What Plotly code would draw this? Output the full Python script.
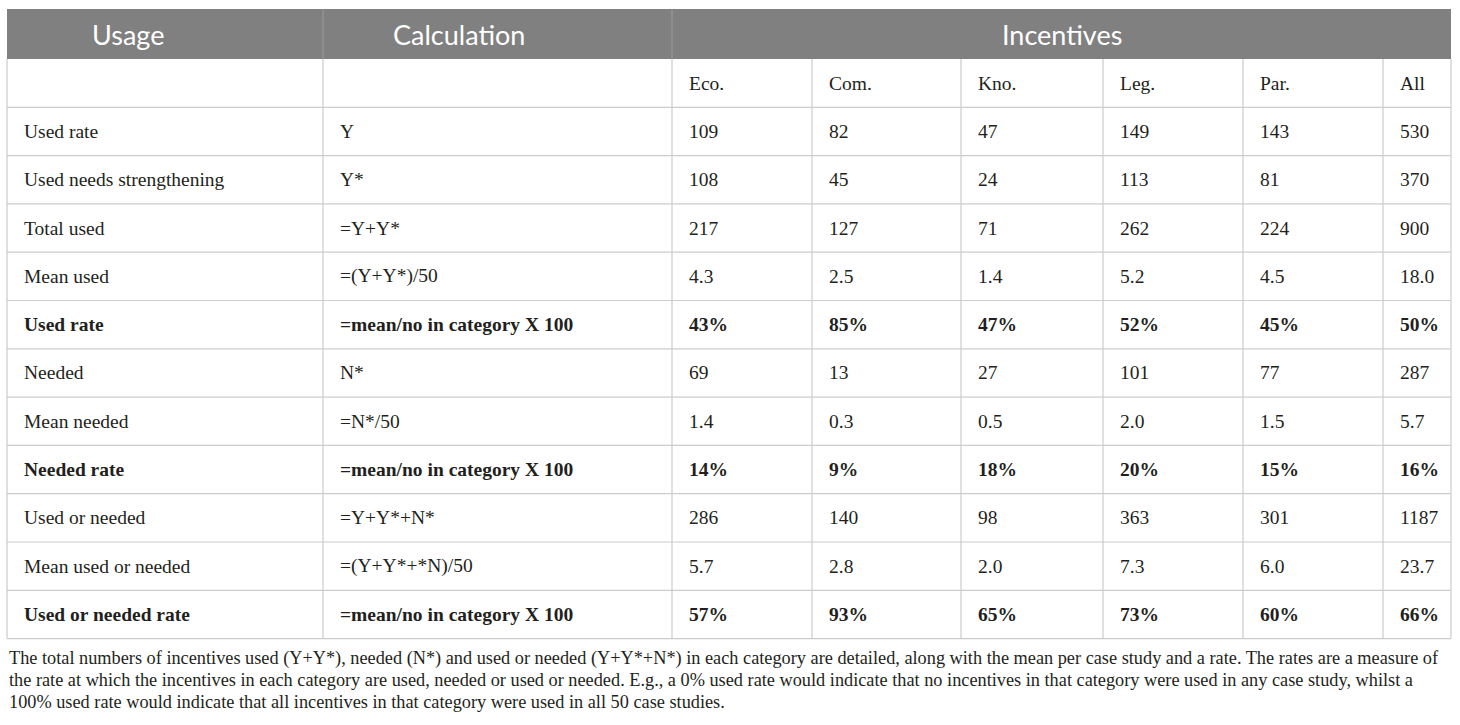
import plotly.graph_objects as go

# ---------------- data ----------------
header_top = ["Usage", "Calculation", "Incentives"]
categories = ["Eco.", "Com.", "Kno.", "Leg.", "Par.", "All"]

usage = ["Used rate", "Used needs strengthening", "Total used", "Mean used", "Used rate",
         "Needed", "Mean needed", "Needed rate", "Used or needed", "Mean used or needed",
         "Used or needed rate"]
calculation = ["Y", "Y*", "=Y+Y*", "=(Y+Y*)/50", "=mean/no in category X 100",
               "N*", "=N*/50", "=mean/no in category X 100", "=Y+Y*+N*", "=(Y+Y*+*N)/50",
               "=mean/no in category X 100"]
eco = ["109", "108", "217", "4.3", "43%", "69", "1.4", "14%", "286", "5.7", "57%"]
com = ["82", "45", "127", "2.5", "85%", "13", "0.3", "9%", "140", "2.8", "93%"]
kno = ["47", "24", "71", "1.4", "47%", "27", "0.5", "18%", "98", "2.0", "65%"]
leg = ["149", "113", "262", "5.2", "52%", "101", "2.0", "20%", "363", "7.3", "73%"]
par = ["143", "81", "224", "4.5", "45%", "77", "1.5", "15%", "301", "6.0", "60%"]
all_ = ["530", "370", "900", "18.0", "50%", "287", "5.7", "16%", "1187", "23.7", "66%"]
bold_rows = [False, False, False, False, True, False, False, True, False, False, True]

caption_lines = [
    "The total numbers of incentives used (Y+Y*), needed (N*) and used or needed (Y+Y*+N*) in each category are detailed, along with the mean per case study and a rate. The rates are a measure of",
    "the rate at which the incentives in each category are used, needed or used or needed. E.g., a 0% used rate would indicate that no incentives in that category were used in any case study, whilst a",
    "100% used rate would indicate that all incentives in that category were used in all 50 case studies.",
]

# ---------------- layout geometry ----------------
W, H = 1460, 725
col_edges = [7, 323, 672, 812, 961, 1103, 1243, 1383, 1451]
top = 9
header_bottom = 59
row_h = 48.3
n_rows = 1 + len(usage)
row_edges = [header_bottom + i * row_h for i in range(n_rows + 1)]
pad = 15
header_x = [128, 459, (col_edges[2] + col_edges[-1]) / 2]

HEADER_BG = "#808080"
GRID = "#cccccc"
TEXT = "#231f20"
SERIF = "Liberation Serif, Times New Roman, serif"
SANS = "Lato, Open Sans, sans-serif"

fig = go.Figure()
shapes = []
annotations = []

# header band
shapes.append(dict(type="rect", xref="x", yref="y", x0=col_edges[0], x1=col_edges[-1],
                   y0=top, y1=header_bottom, fillcolor=HEADER_BG, line=dict(width=0), layer="below"))
for xe in col_edges[1:3]:
    shapes.append(dict(type="line", xref="x", yref="y", x0=xe, x1=xe, y0=top, y1=header_bottom,
                       line=dict(color="#9a9a9a", width=1)))

# grid lines
for ye in row_edges[1:]:
    shapes.append(dict(type="line", xref="x", yref="y", x0=col_edges[0], x1=col_edges[-1],
                       y0=ye, y1=ye, line=dict(color=GRID, width=1.2)))
for xe in col_edges:
    shapes.append(dict(type="line", xref="x", yref="y", x0=xe, x1=xe,
                       y0=header_bottom, y1=row_edges[-1], line=dict(color=GRID, width=1.2)))

# header text
for txt, xc in zip(header_top, header_x):
    annotations.append(dict(x=xc, y=(top + header_bottom) / 2 + 0.5, xref="x", yref="y", text=txt,
                            showarrow=False, xanchor="center", yanchor="middle",
                            font=dict(family=SANS, size=27, color="white")))

def cell(col, row, txt, bold=False):
    xc = col_edges[col] + pad
    yc = (row_edges[row] + row_edges[row + 1]) / 2
    t = f"<b>{txt}</b>" if bold else txt
    annotations.append(dict(x=xc, y=yc, xref="x", yref="y", text=t, showarrow=False,
                            xanchor="left", yanchor="middle",
                            font=dict(family=SERIF, size=19.5, color=TEXT)))

# sub header
for j, c in enumerate(categories):
    cell(2 + j, 0, c)

series = [eco, com, kno, leg, par, all_]
for i in range(len(usage)):
    b = bold_rows[i]
    cell(0, i + 1, usage[i], b)
    cell(1, i + 1, calculation[i], b)
    for j, s in enumerate(series):
        cell(2 + j, i + 1, s[i], b)

# caption
cap_y0 = 658
for k, line in enumerate(caption_lines):
    annotations.append(dict(x=col_edges[0], y=cap_y0 + k * 22, xref="x", yref="y", text=line,
                            showarrow=False, xanchor="left", yanchor="middle",
                            font=dict(family=SERIF, size=18.3, color=TEXT)))

fig.update_layout(
    width=W, height=H, margin=dict(l=0, r=0, t=0, b=0),
    paper_bgcolor="white", plot_bgcolor="white",
    xaxis=dict(range=[0, W], visible=False, fixedrange=True),
    yaxis=dict(range=[H, 0], visible=False, fixedrange=True),
    shapes=shapes, annotations=annotations, showlegend=False,
)

fig.write_html("out.html", config={"displayModeBar": False},
               post_script="document.body.style.margin='0';document.body.style.overflow='hidden';")
